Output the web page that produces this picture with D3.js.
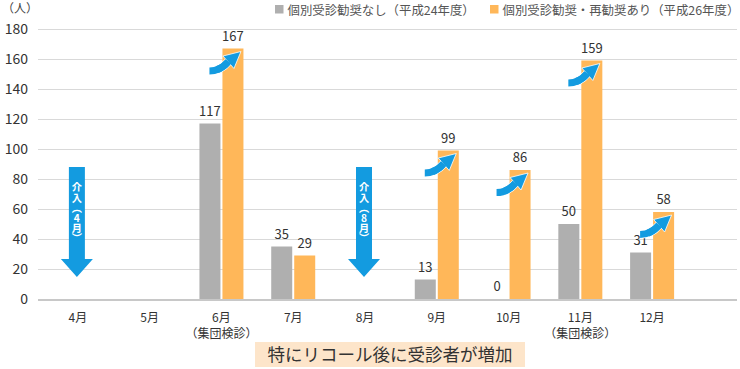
<!DOCTYPE html>
<html><head><meta charset="utf-8">
<script src="https://cdn.jsdelivr.net/npm/d3@7/dist/d3.min.js"></script>
<style>
html,body{margin:0;padding:0;background:#fff;}
svg{display:block;font-family:"Noto Sans CJK JP","Noto Sans",sans-serif;}
</style></head>
<body><svg id="c" width="740" height="369"></svg>
<script>
const months = ["4月","5月","6月","7月","8月","9月","10月","11月","12月"];
const subLabels = ["","","（集団検診）","","","","","（集団検診）",""];
const h24 = [null,null,117,35,null,13,0,50,31];
const h26 = [null,null,167,29,null,99,86,159,58];
const seriesNames = ["個別受診勧奨なし（平成24年度）","個別受診勧奨・再勧奨あり（平成26年度）"];
const seriesColors = ["#afafaf","#ffb759"];
const yTicks = [0,20,40,60,80,100,120,140,160,180];
const increaseMonths = ["6月","9月","10月","11月","12月"];
const interventions = [{month:"4月", label:"介入（4月）"},{month:"8月", label:"介入（8月）"}];
const unitLabel = "（人）";
const footnote = "特にリコール後に受診者が増加";

const svg = d3.select("#c");
const blue = "#139be0";
const x = d3.scaleBand().domain(months).range([42, 688]).paddingInner(0).paddingOuter(0);
const y = d3.scaleLinear().domain([0,180]).range([299,29]);
const xs = d3.scaleBand().domain([0,1]).range([-22,22]).paddingInner(2/23);

// gridlines
svg.append("g").selectAll("line").data(yTicks.filter(d=>d>0)).join("line")
  .attr("x1",38).attr("x2",737).attr("y1",d=>y(d)+0.5).attr("y2",d=>y(d)+0.5)
  .attr("stroke","#d9d9d9").attr("stroke-width",1);
// y labels
svg.append("g").selectAll("text").data(yTicks).join("text")
  .attr("x",28).attr("y",d=>y(d)+5).attr("text-anchor","end")
  .attr("font-size",14).attr("fill","#333").text(d=>d);
svg.append("text").attr("x",2).attr("y",13).attr("font-size",12).attr("fill","#444").text(unitLabel);

// bars
const series = [h24,h26];
series.forEach((vals,si)=>{
  const g = svg.append("g");
  const data = months.map((m,i)=>({m, v:vals[i]})).filter(d=>d.v!==null);
  g.selectAll("rect").data(data).join("rect")
    .attr("x",d=>x(d.m)+x.bandwidth()/2+xs(si))
    .attr("y",d=>y(d.v))
    .attr("width",xs.bandwidth())
    .attr("height",d=>y(0)-y(d.v))
    .attr("fill",seriesColors[si]);
  g.selectAll("text").data(data).join("text")
    .attr("x",d=>x(d.m)+x.bandwidth()/2+xs(si)+xs.bandwidth()/2)
    .attr("y",d=>y(d.v)-8)
    .attr("text-anchor","middle").attr("font-size",13).attr("fill","#333")
    .text(d=>d.v);
});

// baseline
svg.append("line").attr("x1",38).attr("x2",737).attr("y1",y(0)+1).attr("y2",y(0)+1)
  .attr("stroke","#c8c8c8").attr("stroke-width",2);

// x labels
svg.append("g").selectAll("text").data(months).join("text")
  .attr("x",d=>x(d)+x.bandwidth()/2).attr("y",322).attr("text-anchor","middle")
  .attr("font-size",12).attr("fill","#333").text(d=>d);
svg.append("g").selectAll("text").data(months.map((m,i)=>({m,s:subLabels[i]})).filter(d=>d.s)).join("text")
  .attr("x",d=>x(d.m)+x.bandwidth()/2).attr("y",338).attr("text-anchor","middle")
  .attr("font-size",12).attr("fill","#333").text(d=>d.s);

// increase arrows
increaseMonths.forEach(m=>{
  const i = months.indexOf(m);
  const left = x(m)+x.bandwidth()/2+xs(1);
  const top = y(h26[i]);
  const g = svg.append("g").attr("transform",`translate(${left},${top})`);
  const shaft = "M-13,22.5 Q-2,22.5 6,13";
  g.append("path").attr("d",shaft).attr("fill","none").attr("stroke","#fff").attr("stroke-width",8.5);
  g.append("path").attr("d",shaft).attr("fill","none").attr("stroke",blue).attr("stroke-width",7);
  g.append("path").attr("d","M18.5,3 L0.5,7.5 L11.5,20 Z").attr("fill",blue)
    .attr("stroke","#fff").attr("stroke-width",0.8).attr("stroke-linejoin","miter");
  g.append("path").attr("d",shaft).attr("fill","none").attr("stroke",blue).attr("stroke-width",7)
    .attr("stroke-dasharray","0,8,100");
});

// intervention arrows
interventions.forEach(iv=>{
  const cx = x(iv.month)+x.bandwidth()/2-1;
  const t = y(88), hb = y(26.7), tip = y(14.7);
  const g = svg.append("g");
  g.append("path").attr("d",`M${cx-8},${t} L${cx+8},${t} L${cx+8},${hb} L${cx+16},${hb} L${cx},${tip} L${cx-16},${hb} L${cx-8},${hb} Z`)
    .attr("fill",blue);
  g.append("text").attr("x",cx).attr("y",213)
    .attr("font-size",10.2).attr("font-weight","bold").attr("fill","#fff")
    .attr("text-anchor","middle")
    .style("writing-mode","vertical-rl").style("text-orientation","upright")
    .text(iv.label);
});

// legend
const lg = svg.append("g");
const lx = [275, 490];
seriesNames.forEach((n,i)=>{
  lg.append("rect").attr("x",lx[i]).attr("y",5).attr("width",8.5).attr("height",8.5).attr("fill",seriesColors[i]);
  lg.append("text").attr("x",lx[i]+12.5).attr("y",14.5).attr("font-size",12.4).attr("fill","#555").text(n);
});

// footnote
svg.append("rect").attr("x",255).attr("y",342).attr("width",270).attr("height",25).attr("fill","#fde5ca");
svg.append("text").attr("x",390).attr("y",361).attr("text-anchor","middle").attr("font-size",17.5).attr("fill","#333").text(footnote);
</script></body></html>
